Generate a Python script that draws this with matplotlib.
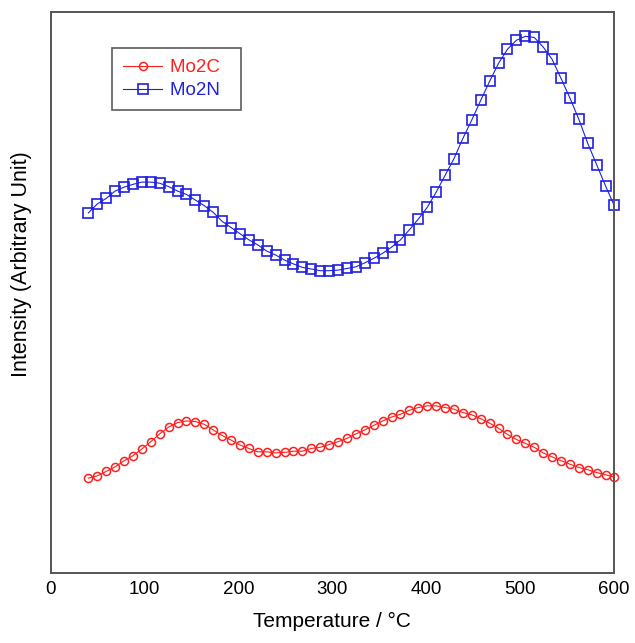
import matplotlib
matplotlib.use("Agg")
import matplotlib.pyplot as plt

# TPR profiles, intensity in arbitrary units
temperature = [40, 49.5, 59, 68.5, 78, 87.5, 97, 106.5, 116, 125.5,
               135, 144.5, 154, 163.5, 173, 182.5, 192, 201.5, 211, 220.5,
               230, 239.5, 249, 258.5, 268, 277.5, 287, 296.5, 306, 315.5,
               325, 334.5, 344, 353.5, 363, 372.5, 382, 391.5, 401, 410.5,
               420, 429.5, 439, 448.5, 458, 467.5, 477, 486.5, 496, 505.5,
               515, 524.5, 534, 543.5, 553, 562.5, 572, 581.5, 591, 600]

mo2c = [16.9, 17.3, 18.1, 18.9, 20.0, 20.9, 22.1, 23.4, 24.8, 26.0,
        26.8, 27.1, 27.0, 26.5, 25.5, 24.5, 23.7, 22.8, 22.2, 21.6,
        21.6, 21.4, 21.5, 21.7, 21.7, 22.2, 22.4, 22.9, 23.4, 24.0,
        24.8, 25.5, 26.3, 27.1, 27.8, 28.3, 29.0, 29.5, 29.8, 29.8,
        29.5, 29.2, 28.6, 28.2, 27.5, 26.7, 25.8, 24.7, 23.8, 23.1,
        22.4, 21.4, 20.7, 20.0, 19.4, 18.8, 18.4, 17.9, 17.5, 17.1]

mo2n = [64.2, 65.8, 66.8, 68.1, 68.8, 69.3, 69.7, 69.7, 69.5, 68.9,
        68.1, 67.5, 66.5, 65.5, 64.3, 62.7, 61.6, 60.5, 59.4, 58.5,
        57.4, 56.7, 55.8, 55.1, 54.5, 54.2, 53.9, 53.9, 54.0, 54.3,
        54.6, 55.3, 56.1, 57.0, 58.1, 59.4, 61.2, 63.1, 65.2, 67.9,
        70.9, 73.9, 77.5, 80.8, 84.3, 87.7, 90.9, 93.4, 95.0, 95.7,
        95.5, 93.8, 91.6, 88.2, 84.7, 80.9, 76.6, 72.8, 69.0, 65.6]

xticks = [0, 100, 200, 300, 400, 500, 600]

plt.rcParams["font.family"] = ["Liberation Sans", "DejaVu Sans"]

fig = plt.figure(figsize=(6.35, 6.43), dpi=100)
ax = fig.add_axes([0.080, 0.109, 0.887, 0.872])

ax.plot(temperature, mo2c, color="#ff2020", lw=0.8, marker="o", ms=5.8,
        mfc="none", mec="#ff2020", mew=1.1, label="Mo2C", clip_on=False)
ax.plot(temperature, mo2n, color="#2020e0", lw=0.8, marker="s", ms=7,
        mfc="none", mec="#2020e0", mew=1.2, label="Mo2N", clip_on=False)

ax.set_xlim(0, 600)
ax.set_ylim(0, 100)
ax.set_xticks(xticks)
ax.set_yticks([])
ax.tick_params(axis="x", length=0, pad=6, labelsize=13.5)

for spine in ax.spines.values():
    spine.set_color("#555555")
    spine.set_linewidth(1.4)

ax.set_xlabel("Temperature / \u00b0C", fontsize=15, labelpad=10)
ax.set_ylabel("Intensity (Arbitrary Unit)", fontsize=15.5)
ax.yaxis.set_label_coords(-0.033, 0.55)

leg = ax.legend(loc="upper left", bbox_to_anchor=(0.108, 0.936),
                fontsize=13.5, labelcolor="linecolor", fancybox=False,
                handlelength=2.1, handletextpad=0.4, borderpad=0.6,
                borderaxespad=0, labelspacing=0.3)
leg.get_frame().set_edgecolor("#333333")
leg.get_frame().set_linewidth(1.2)
# leave some blank room on the right of the labels inside the box
for txt in leg.get_texts():
    txt.set_text(txt.get_text() + "  ")

fig.savefig("out.png", dpi=100)
